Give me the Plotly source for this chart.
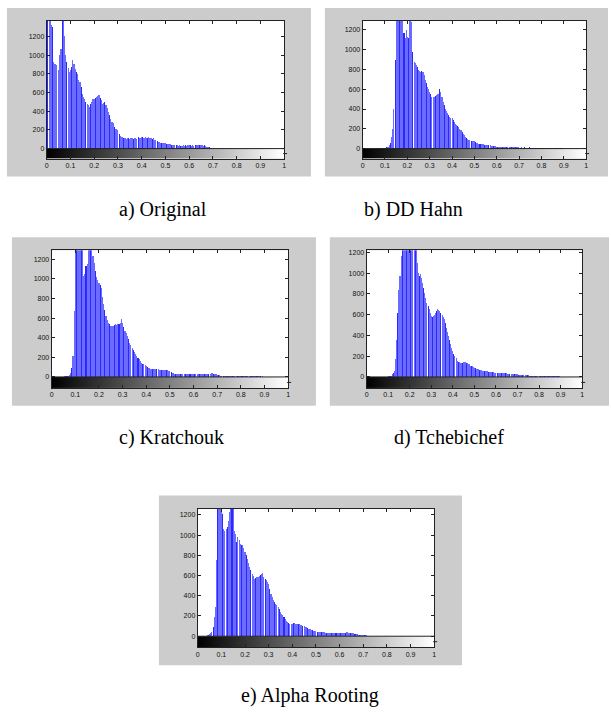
import numpy as np
import plotly.graph_objects as go

# ---------------- data (bin width 0.005) -------------
BIN = 0.005

orig = [1400,1400,1400,1400,1320,1300,930,910,900,0,
        840,1000,1070,1400,1400,1210,1000,930,860,820,
        840,875,945,910,850,820,800,740,715,660,
        590,550,535,500,480,470,445,480,500,535,
        535,545,555,565,570,545,520,480,490,500,
        465,430,390,355,320,290,270,230,215,205,
        195,160,135,125,125,115,110,105,115,110,
        105,115,110,105,115,110,105,120,115,110,
        125,120,115,120,115,110,120,110,115,105,
        110,95,90,80,70,70,65,60,60,55,
        55,50,50,45,45,40,40,35,35,35,
        35,30,35,30,30,35,30,35,30,35,
        40,35,30,35,30,35,40,35,40,35,
        40,35,30,35,30,20,20,15,10,5]

hahn = [0,0,0,0,0,0,0,0,0,0,
        0,0,0,5,5,5,5,5,10,10,
        10,15,15,20,35,60,120,200,405,895,
        1400,1400,1400,1400,1400,1400,1400,1165,1115,1200,
        1130,1115,1400,1300,1280,980,880,860,845,820,
        795,785,775,780,775,740,690,660,625,600,
        575,550,525,520,525,530,540,550,555,600,
        575,520,475,440,405,380,355,335,320,310,
        305,290,270,250,235,225,220,200,185,165,
        150,135,120,105,95,90,85,80,78,75,
        75,65,60,55,50,50,50,45,45,40,
        40,35,35,35,35,30,30,30,25,25,
        20,20,20,15,20,15,20,15,20,15,
        20,15,20,15,15,20,15,15,15,20,
        10,10,15,10,10,15,10,10,10,15,
        10,10,10,10,10,10,5,10,5,10,
        5,5,10,5,5,5,5,5,5,5,
        5,5,5,5,5,5,5,5,5,5]

kratchouk = [0,0,0,0,0,0,0,0,0,0,
             0,5,10,10,10,15,45,95,215,675,
             1400,1400,1400,1400,1400,1400,1400,1030,1050,1130,
             1150,1400,1400,1400,1400,1235,1165,1080,1015,985,
             960,935,910,820,740,680,620,585,555,540,
             520,515,520,530,540,535,540,545,555,590,
             555,510,470,445,420,385,350,325,300,275,
             250,230,215,195,180,160,145,135,130,120,
             110,100,95,90,85,85,85,85,85,80,
             80,75,70,70,70,75,70,70,70,65,
             60,50,45,40,35,35,35,35,35,35,
             35,35,35,30,35,35,35,30,35,35,
             30,30,30,30,30,30,30,30,30,30,
             30,30,30,35,35,40,40,35,30,25,
             20,15,15,12,12,12,12,12,12,10,
             12,10,10,12,10,10,8,10,8,8,
             5,5,5,5,5,5,5,5,5,5,
             5,5,5,5,5,5,5,5,5,0]

tchebichef = [0,0,0,0,0,0,0,0,0,0,
              0,0,0,0,0,0,0,0,0,0,
              5,5,10,10,25,35,60,170,360,620,
              840,970,1160,1400,1400,1400,1400,1400,1400,1400,
              1400,1400,1400,1400,1400,1400,1400,1100,1000,970,
              990,950,905,860,810,760,715,680,650,615,
              585,580,585,600,615,635,650,640,630,615,
              600,580,555,515,475,435,395,355,315,280,
              250,225,200,180,155,145,140,135,130,135,
              140,145,145,135,130,120,110,105,105,95,
              90,85,80,75,75,70,65,65,60,60,
              60,55,55,50,50,50,50,45,45,40,
              40,40,40,35,35,35,35,35,35,35,
              35,30,30,30,30,30,30,25,25,25,
              25,20,20,20,20,20,15,15,15,15,
              15,12,12,10,10,10,10,8,8,8,
              8,5,5,5,5,5,5,5,5,5,
              5,5,5,5,5,5,5,5,5,5]

alpha_rooting = [0,0,0,0,0,0,0,0,10,10,
                 25,30,45,90,190,290,750,1400,1400,1400,
                 1400,1210,1060,1045,1060,1080,1140,1225,1400,1400,
                 1400,1045,1015,930,980,950,915,905,900,870,
                 830,800,765,720,685,650,620,595,570,575,
                 585,590,600,610,620,625,585,570,555,540,
                 520,470,420,385,355,335,320,305,290,265,
                 240,220,205,190,175,155,140,130,125,125,
                 125,130,130,125,125,120,120,115,110,105,
                 100,95,90,80,75,70,65,60,55,50,
                 50,45,45,45,40,40,38,38,35,35,
                 35,30,30,28,28,28,28,28,28,28,
                 28,30,32,35,35,35,38,38,35,35,
                 30,28,28,25,20,18,15,15,12,12,
                 12,10,8,8,6,5,5,5,5,0]

x_ticks = [0, 0.1, 0.2, 0.3, 0.4, 0.5, 0.6, 0.7, 0.8, 0.9, 1]
x_tick_labels = ["0", "0.1", "0.2", "0.3", "0.4", "0.5", "0.6", "0.7", "0.8", "0.9", "1"]
y_ticks = [0, 200, 400, 600, 800, 1000, 1200]
y_tick_labels = ["0", "200", "400", "600", "800", "1000", "1200"]
captions = ["a) Original", "b) DD Hahn", "c) Kratchouk", "d) Tchebichef", "e) Alpha Rooting"]
series = [orig, hahn, kratchouk, tchebichef, alpha_rooting]
y_max = [1368, 1290, 1292, 1219, 1262]

# ---------------- layout geometry (pixels) ----------------
W, H = 611, 713
# axes box (x0, x1, ytop, ybottom-of-colorbar, y of zero line)
axes_px = [
    (45, 284, 19, 157, 147),
    (363, 588, 19, 157, 147),
    (50, 288, 249, 387, 376),
    (367, 584, 249, 387, 376),
    (197, 435, 508, 647, 636),
]
gray_px = [
    (5, 311, 6, 175),
    (325, 610, 6, 175),
    (10, 316, 236, 405),
    (330, 611, 236, 405),
    (158, 463, 495, 665),
]
caption_px = [(162, 208), (414, 208), (171, 437), (450, 437), (310, 695)]

def px(x):
    return x / W

def py(y):
    return 1 - y / H

fig = go.Figure()
shapes = []
annotations = []
layout_axes = {}

bar_light = "#6b6bff"
bar_dark = "#2a2aff"

for k in range(5):
    n = k + 1
    xa = "x" if n == 1 else f"x{n}"
    ya = "y" if n == 1 else f"y{n}"
    xkey = "xaxis" if n == 1 else f"xaxis{n}"
    ykey = "yaxis" if n == 1 else f"yaxis{n}"
    x0, x1, yt, yb, yz = axes_px[k]
    top = y_max[k]
    unit = (yz - yt) / top
    bot = -(yb - yz) / unit

    vals = series[k]
    xs = np.arange(len(vals)) * BIN
    colors = [bar_dark if i % 4 == 1 else bar_light for i in range(len(vals))]

    # grey scale colour strip under the histogram
    fig.add_trace(go.Heatmap(
        x=np.linspace(0, 1, 257), y=[bot, 0], z=[np.linspace(0, 1, 256)],
        colorscale=[[0, "#000000"], [1, "#ffffff"]], zmin=0, zmax=1,
        showscale=False, hoverinfo="skip", xaxis=xa, yaxis=ya))
    fig.add_trace(go.Bar(
        x=xs, y=vals, width=BIN * 0.95,
        marker=dict(color=colors, line=dict(width=0)),
        xaxis=xa, yaxis=ya, showlegend=False, hoverinfo="skip"))

    gx0, gx1, gy0, gy1 = gray_px[k]
    shapes.append(dict(type="rect", xref="paper", yref="paper",
                       x0=px(gx0), x1=px(gx1), y0=py(gy1), y1=py(gy0),
                       fillcolor="#cccccc", line=dict(width=0), layer="below"))
    shapes.append(dict(type="rect", xref="paper", yref="paper",
                       x0=px(x0), x1=px(x1), y0=py(yb), y1=py(yt),
                       fillcolor="#ffffff", line=dict(width=0), layer="below"))
    # separation line between histogram and colour strip
    shapes.append(dict(type="line", xref=xa, yref=ya, x0=0, x1=1, y0=0, y1=0,
                       line=dict(color="#222222", width=1), layer="above"))
    # small tick on the right of the colour strip
    shapes.append(dict(type="line", xref="paper", yref="paper",
                       x0=px(x1 - 1), x1=px(x1 + 3), y0=py((yz + yb) / 2), y1=py((yz + yb) / 2),
                       line=dict(color="#222222", width=1), layer="above"))

    tickfont = dict(family="Liberation Sans, Arial, sans-serif", size=7, color="#111111")
    layout_axes[xkey] = dict(
        domain=[px(x0), px(x1)], anchor=ya, range=[0, 1],
        tickmode="array", tickvals=x_ticks, ticktext=x_tick_labels,
        ticks="inside", ticklen=3, tickcolor="#222222", tickwidth=1,
        showline=True, linecolor="#222222", linewidth=1, mirror="ticks",
        showgrid=False, zeroline=False, tickfont=tickfont, fixedrange=True)
    layout_axes[ykey] = dict(
        domain=[py(yb), py(yt)], anchor=xa, range=[bot, top],
        tickmode="array", tickvals=y_ticks, ticktext=y_tick_labels,
        ticks="inside", ticklen=3, tickcolor="#222222", tickwidth=1,
        showline=True, linecolor="#222222", linewidth=1, mirror="ticks",
        showgrid=False, zeroline=False, tickfont=tickfont, fixedrange=True)

    cx, cy = caption_px[k]
    annotations.append(dict(
        text=captions[k], xref="paper", yref="paper", x=px(cx), y=py(cy),
        xanchor="center", yanchor="middle", showarrow=False,
        font=dict(family="Liberation Serif", size=20, color="#000000")))

fig.update_layout(
    width=W, height=H, margin=dict(l=0, r=0, t=0, b=0),
    paper_bgcolor="#ffffff", plot_bgcolor="#ffffff",
    showlegend=False, bargap=0,
    shapes=shapes, annotations=annotations,
    **layout_axes)

fig.write_html("out.html", config={"displayModeBar": False, "staticPlot": True},
               post_script="document.body.style.margin='0';document.body.style.overflow='hidden';")
